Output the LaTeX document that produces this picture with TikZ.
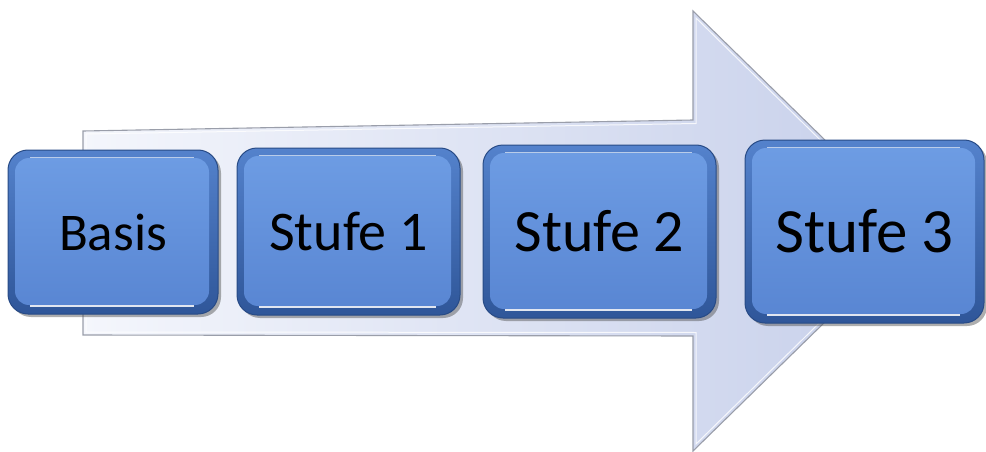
\documentclass[tikz,border=0pt]{standalone}
\usepackage{fontspec}
\setmainfont{Carlito}
\usetikzlibrary{calc,shadows}

\definecolor{arrowlight}{HTML}{F4F6FC}
\definecolor{arrowdark}{HTML}{C6CFEA}
\definecolor{arrowedge}{HTML}{9A9EAA}
\definecolor{boxedge}{HTML}{284B86}
\definecolor{boxrim}{HTML}{5482CC}
\definecolor{boxrimdark}{HTML}{2F5699}
\definecolor{boxtop}{HTML}{6E9DE4}
\definecolor{boxbottom}{HTML}{5885D2}

\tikzset{
  arrowbody/.style={left color=arrowlight, right color=arrowdark,
    draw=arrowedge, line width=1.1pt, line join=miter},
  arrowinner/.style={draw=white, opacity=0.8, line width=1pt},
  stepbox/.style={rectangle, rounded corners=20pt, inner sep=0pt,
    top color=boxrim, bottom color=boxrimdark,
    draw=boxedge, line width=1pt, text=black,
    drop shadow={shadow xshift=3pt, shadow yshift=-3pt, opacity=0.45, fill=black!70},
    path picture={
      \shade[rounded corners=14pt, top color=boxtop, bottom color=boxbottom]
        ($(path picture bounding box.north west)+(7,8)$) rectangle
        ($(path picture bounding box.south east)+(-9,-9)$);
      \draw[white, opacity=0.6, line width=1pt]
        ($(path picture bounding box.north west)+(22,7.5)$) --
        ($(path picture bounding box.north east)+(-24,7.5)$);
      \draw[white, opacity=0.85, line width=1.6pt]
        ($(path picture bounding box.south west)+(22,-8)$) --
        ($(path picture bounding box.south east)+(-24,-8)$);
    }},
  stagetext/.style={font=\fontsize{#1}{#1}\selectfont},
}

\begin{document}
\begin{tikzpicture}[x=1pt, y=-1pt]
  \useasboundingbox (0,0) rectangle (986,452);

  % large process arrow in the background
  \path[arrowbody] (83,131) -- (693,120) -- (693,11) -- (918,231)
    -- (693,451) -- (693,336) -- (83,335) -- cycle;
  \path[arrowinner] (86,134) -- (696,123.5) -- (696,18) -- (913,231)
    -- (696,444) -- (696,332.5) -- (86,332) -- cycle;

  % the four stages
  \node[stepbox, minimum width=210pt, minimum height=164pt,
        stagetext=53] (basis) at (113,232) {Basis};
  \node[stepbox, minimum width=223pt, minimum height=167pt,
        stagetext=56] (s1) at (348.5,231.5) {Stufe 1};
  \node[stepbox, minimum width=233pt, minimum height=173pt,
        stagetext=60] (s2) at (599.5,231.5) {Stufe 2};
  \node[stepbox, minimum width=239pt, minimum height=183pt,
        stagetext=63] (s3) at (864.5,231.5) {Stufe 3};
\end{tikzpicture}
\end{document}
